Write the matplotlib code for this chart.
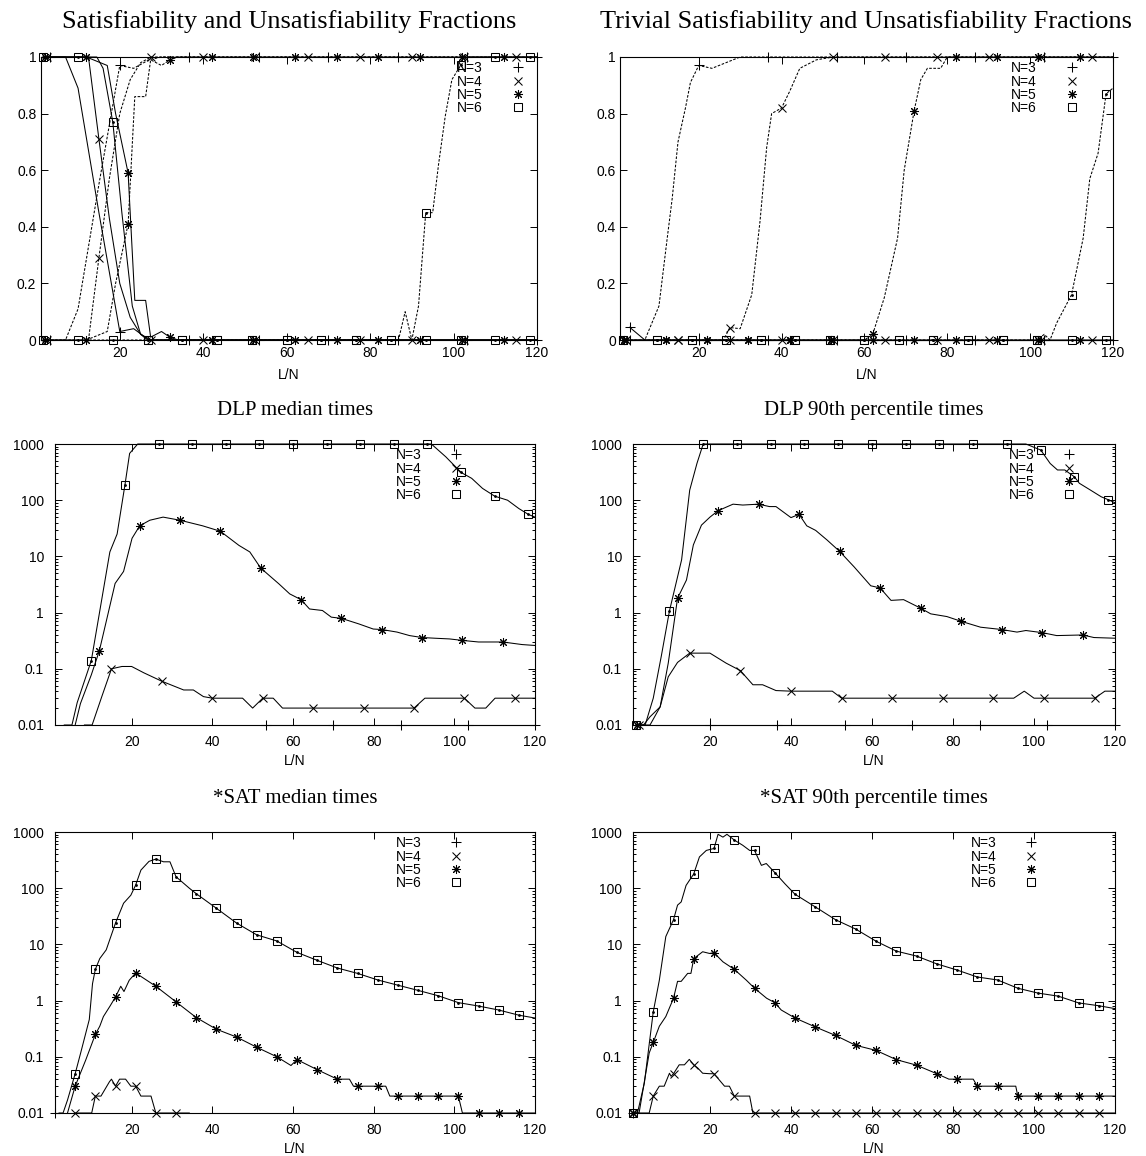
import matplotlib
matplotlib.use("Agg")
import matplotlib.pyplot as plt
from matplotlib.lines import Line2D
from matplotlib.ticker import LogLocator, NullFormatter, NullLocator

# marker positions (L/N) used for each N
mk3 = [3.33, 20, 36.67, 53.33, 70, 86.67, 103.33, 120]
mk4 = [2.5, 15, 27.5, 40, 52.5, 65, 77.5, 90, 102.5, 115]
mk5 = [2, 12, 22, 32, 42, 52, 62, 72, 82, 92, 102, 112]
mk6 = [1.67, 10, 18.33, 26.67, 35, 43.33, 51.67, 60, 68.33, 76.67, 85, 93.33, 101.67, 110, 118.33]
mkb = [1, 6, 11, 16, 21, 26, 31, 36, 41, 46, 51, 56, 61, 66, 71, 76, 81, 86, 91, 96, 101, 106, 111, 116]

labels = ["N=3", "N=4", "N=5", "N=6"]

# --- satisfiability / unsatisfiability fractions
fr_x3 = [3.33, 7, 10, 15, 20, 23.33, 27, 30, 36.67, 53.33, 70, 86.67, 103.33, 120]
fr_uns3 = [1, 1, 0.89, 0.45, 0.03, 0.04, 0, 0, 0, 0, 0, 0, 0, 0]
fr_sat3 = [0, 0, 0.11, 0.55, 0.97, 0.96, 0.99, 1, 1, 1, 1, 1, 1, 1]
fr_x4 = [2.5, 12.5, 15, 17.5, 20, 22.5, 25, 27.5, 40, 52.5, 65, 77.5, 90, 102.5, 115, 120]
fr_uns4 = [1, 1, 0.71, 0.43, 0.2, 0.08, 0.02, 0, 0, 0, 0, 0, 0, 0, 0, 0]
fr_sat4 = [0, 0, 0.29, 0.57, 0.8, 0.92, 0.98, 1, 1, 1, 1, 1, 1, 1, 1, 1]
fr_x5 = [2, 12, 17, 19, 22, 23.6, 26.2, 27.4, 30, 32, 34, 42, 52, 62, 72, 82, 92, 102, 112, 120]
fr_uns5 = [1, 1, 0.97, 0.8, 0.59, 0.14, 0.14, 0.01, 0.03, 0.01, 0, 0, 0, 0, 0, 0, 0, 0, 0, 0]
fr_sat5 = [0, 0, 0.03, 0.2, 0.41, 0.86, 0.86, 0.99, 0.97, 0.99, 1, 1, 1, 1, 1, 1, 1, 1, 1, 1]
fr_x6 = [1.67, 10, 14.5, 16, 18.33, 20.5, 23, 25, 26.67, 35, 43.33, 51.67, 60, 68.33, 76.67, 85,
         86.8, 88.4, 90, 91.6, 93.33, 95, 96.4, 98, 99.6, 101.67, 103.6, 110, 118.33, 120]
fr_uns6 = [1, 1, 1, 0.96, 0.77, 0.45, 0.12, 0.02, 0, 0, 0, 0, 0, 0, 0, 0,
           0, 0, 0, 0, 0, 0, 0, 0, 0, 0, 0, 0, 0, 0]
fr_sat6 = [0, 0, 0, 0, 0, 0, 0, 0, 0, 0, 0, 0, 0, 0, 0, 0,
           0, 0.1, 0, 0.12, 0.45, 0.45, 0.62, 0.79, 0.92, 0.97, 1, 1, 1, 1]

# --- trivial satisfiability / unsatisfiability fractions
tr_x3 = [3.33, 7, 10.4, 12.4, 13.6, 15, 16.8, 18, 20, 23.2, 30, 36.67, 53.33, 70, 86.67, 103.33, 120]
tr_sat3 = [0, 0, 0.12, 0.36, 0.5, 0.7, 0.82, 0.91, 0.97, 0.96, 1, 1, 1, 1, 1, 1, 1]
tr_uns3 = [0.045, 0, 0, 0, 0, 0, 0, 0, 0, 0, 0, 0, 0, 0, 0, 0, 0]
tr_x4 = [2.5, 15, 26, 27.5, 30, 32.8, 34.8, 36.4, 37.6, 40, 42, 44.4, 48.4, 52.5, 65, 77.5, 90, 102.5, 115, 120]
tr_sat4 = [0, 0, 0, 0.044, 0.04, 0.16, 0.42, 0.68, 0.8, 0.82, 0.88, 0.96, 0.99, 1, 1, 1, 1, 1, 1, 1]
tr_uns4 = [0] * 20
tr_x5 = [2, 12, 22, 32, 42, 52, 60, 62, 64.8, 68, 69.6, 72, 73.6, 75.2, 78.4, 80, 82, 92, 102, 112, 120]
tr_sat5 = [0, 0, 0, 0, 0, 0, 0, 0.02, 0.15, 0.36, 0.6, 0.81, 0.92, 0.96, 0.96, 1, 1, 1, 1, 1, 1]
tr_uns5 = [0] * 21
tr_x6 = [1.67, 10, 18.33, 26.67, 35, 43.33, 51.67, 60, 68.33, 76.67, 85, 93.33, 101.67,
         103.4, 104.8, 106.4, 110, 112.8, 114.4, 116.4, 118.33, 120]
tr_sat6 = [0, 0, 0, 0, 0, 0, 0, 0, 0, 0, 0, 0, 0,
           0.02, 0, 0.06, 0.16, 0.36, 0.57, 0.66, 0.87, 0.89]
tr_uns6 = [0] * 22

# --- DLP median times
dm_x3 = [52, 53.33, 70, 86.67, 103.33, 120]
dm_y3 = [0.01, 0.01, 0.01, 0.01, 0.01, 0.01]
dm_x4 = [8.3, 10.2, 12.6, 15, 17.6, 20, 23, 27.5, 32.9, 35.3, 37.8, 40, 47.5, 50, 52.5, 55.1, 57.4,
         65, 77.5, 90, 92.7, 102.5, 105.1, 107.8, 110.1, 115, 120]
dm_y4 = [0.01, 0.01, 0.032, 0.1, 0.11, 0.11, 0.085, 0.06, 0.042, 0.042, 0.032, 0.03, 0.03, 0.02, 0.03,
         0.03, 0.02, 0.02, 0.02, 0.02, 0.03, 0.03, 0.02, 0.02, 0.03, 0.03, 0.03]
dm_x5 = [6, 7.3, 10, 12, 13.9, 15.9, 18, 20.1, 22, 24.5, 27.8, 32, 37.6, 42, 46.6, 49.3, 52, 56.5,
         59.2, 62, 64.1, 67.3, 69.5, 72, 76.3, 79.9, 82, 85.8, 88.9, 92, 95.2, 98.8, 102, 106, 112,
         116.8, 120]
dm_y5 = [0.01, 0.024, 0.078, 0.21, 0.8, 3.3, 5.4, 21, 35, 44, 50, 44, 35, 28, 15.7, 12, 6.2, 3.25,
         2.15, 1.7, 1.16, 1.09, 0.83, 0.79, 0.63, 0.51, 0.5, 0.45, 0.39, 0.36, 0.35, 0.34, 0.32, 0.3,
         0.3, 0.27, 0.26]
dm_x6 = [3.3, 5.2, 6.5, 10, 14.6, 16.4, 18.33, 19.5, 21.5, 26.67, 35, 43.33, 51.67, 60, 68.33, 76.67,
         85, 93.33, 94.3, 97.9, 101.67, 104.3, 107, 110, 113.2, 116, 118.33, 120]
dm_y6 = [0.01, 0.01, 0.025, 0.14, 12, 25, 185, 680, 1000, 1000, 1000, 1000, 1000, 1000, 1000, 1000,
         1000, 1000, 1000, 590, 312, 245, 162, 118, 100, 71, 56, 50]

# --- DLP 90th percentile times
dp_x3 = [6.8, 20, 36.67, 53.33, 70, 86.67, 103.33, 120]
dp_y3 = [0.01, 0.01, 0.01, 0.01, 0.01, 0.01, 0.01, 0.01]
dp_x4 = [2.5, 5.2, 7.7, 9.7, 12, 15, 20, 24, 27.5, 30.6, 33, 36.3, 40, 50.2, 52.5, 65, 77.5, 90, 95,
         97.6, 100, 102.5, 115, 117.5, 120]
dp_y4 = [0.01, 0.01, 0.021, 0.072, 0.13, 0.19, 0.19, 0.126, 0.093, 0.052, 0.052, 0.041, 0.04, 0.04,
         0.03, 0.03, 0.03, 0.03, 0.03, 0.04, 0.03, 0.03, 0.03, 0.04, 0.04]
dp_x5 = [2, 3.6, 5.2, 7.7, 9.7, 12, 14.2, 15.9, 17.9, 20, 22, 25.7, 28.1, 32, 34.7, 36.3, 40, 42, 43.9,
         46.1, 48.9, 52, 55.6, 59.7, 62, 64.7, 67.8, 72, 74.5, 78.5, 82, 86.8, 92, 95.8, 98, 102,
         105.6, 112, 114.8, 120]
dp_y5 = [0.01, 0.01, 0.014, 0.021, 0.126, 1.8, 3.8, 16, 36, 50, 65, 85, 82, 85, 77, 77, 49, 56, 35,
         29, 19.6, 12.3, 6.5, 3.0, 2.75, 1.65, 1.7, 1.2, 0.95, 0.85, 0.7, 0.55, 0.5, 0.45, 0.48, 0.44,
         0.39, 0.4, 0.36, 0.35]
dp_x6 = [1.67, 4, 6, 8, 10, 13, 15, 16.8, 18.33, 26.67, 35, 43.33, 51.67, 60, 68.33, 76.67, 85,
         93.33, 98, 101.67, 104, 105.8, 107.6, 110, 111.2, 113.9, 116.6, 118.33, 120]
dp_y6 = [0.01, 0.01, 0.03, 0.17, 1.07, 8.7, 151, 454, 1000, 1000, 1000, 1000, 1000, 1000, 1000,
         1000, 1000, 1000, 1000, 780, 450, 345, 345, 260, 200, 152, 115, 102, 90]

# --- *SAT median times
sm_x3 = [1, 2]
sm_y3 = [0.01, 0.01]
sm_x4 = [6, 10.1, 11, 12.4, 14.5, 15, 16, 17, 18.5, 19.8, 21, 22.3, 24.8, 26, 31, 34.3]
sm_y4 = [0.01, 0.01, 0.02, 0.02, 0.036, 0.04, 0.03, 0.04, 0.04, 0.03, 0.03, 0.02, 0.02, 0.01, 0.01, 0.01]
sm_x5 = [4.1, 6, 8.6, 11, 12.1, 13, 14.6, 16, 17.3, 18.1, 19.4, 21, 26, 31, 36, 41, 46, 51, 56, 59.5,
         61, 66, 71, 74, 75, 76, 81, 83, 84, 86, 91, 96, 101, 102, 106, 111, 116, 120]
sm_y5 = [0.01, 0.03, 0.087, 0.25, 0.35, 0.52, 0.79, 1.16, 1.8, 1.45, 2.3, 3.1, 1.8, 0.95, 0.5, 0.31,
         0.225, 0.148, 0.1, 0.07, 0.089, 0.059, 0.04, 0.04, 0.03, 0.03, 0.03, 0.03, 0.02, 0.02, 0.02,
         0.02, 0.02, 0.01, 0.01, 0.01, 0.01, 0.01]
sm_x6 = [2, 3, 4.1, 6, 7.4, 9.5, 10.3, 11, 12.1, 13.7, 16, 18, 19.8, 21, 22.3, 24.3, 26, 27.9, 29.5,
         31, 34.3, 36, 41, 46, 51, 56, 61, 66, 71, 76, 81, 86, 91, 96, 101, 106, 111, 116, 120]
sm_y6 = [0.01, 0.01, 0.017, 0.05, 0.12, 0.46, 2.0, 3.6, 5.6, 8, 24, 54, 75, 114, 210, 300, 330, 295,
         295, 160, 100, 80, 44, 24, 14.8, 11.5, 7.2, 5.2, 3.8, 3.05, 2.33, 1.88, 1.52, 1.22, 0.92, 0.8,
         0.68, 0.55, 0.49]

# --- *SAT 90th percentile times
sp_x3 = [1, 2]
sp_y3 = [0.01, 0.01]
sp_x4 = [1, 2.1, 5, 6, 7.5, 8.7, 10, 10.4, 11, 12.4, 13.7, 14.9, 16, 17, 18.2, 19.9, 21, 23.6, 24.8,
         26, 29.8, 30.6, 31, 36, 41, 46, 51, 56, 61, 66, 71, 76, 81, 86, 91, 96, 101, 106, 111, 116, 120]
sp_y4 = [0.01, 0.01, 0.01, 0.02, 0.03, 0.03, 0.051, 0.045, 0.05, 0.072, 0.072, 0.09, 0.072, 0.063,
         0.051, 0.05, 0.05, 0.03, 0.03, 0.02, 0.02, 0.01, 0.01, 0.01, 0.01, 0.01, 0.01, 0.01, 0.01,
         0.01, 0.01, 0.01, 0.01, 0.01, 0.01, 0.01, 0.01, 0.01, 0.01, 0.01, 0.01]
sp_x5 = [1, 2.5, 5, 6, 7.5, 9.1, 11, 12, 12.9, 14.5, 15.3, 16, 18.2, 19.9, 21, 23.2, 26, 29, 31, 34,
         36, 37.6, 41, 46, 51, 56, 61, 66, 71, 76, 79, 81, 85, 86, 91, 95.5, 96, 101, 106, 111, 116, 120]
sp_y5 = [0.01, 0.01, 0.117, 0.18, 0.35, 0.52, 1.1, 2.2, 2.2, 3.05, 3.05, 5.6, 7.4, 6.9, 7.1, 4.9, 3.6,
         2.3, 1.66, 1.1, 0.92, 0.68, 0.49, 0.34, 0.24, 0.16, 0.13, 0.089, 0.071, 0.05, 0.04, 0.04,
         0.04, 0.03, 0.03, 0.03, 0.02, 0.02, 0.02, 0.02, 0.02, 0.02]
sp_x6 = [1, 2.1, 3.8, 6, 7.5, 9.1, 11, 12, 12.9, 14.1, 16, 17.4, 19.1, 21, 22, 23.2, 24.2, 26, 28.1,
         29.8, 31, 32.7, 33.9, 36, 38.5, 41, 46, 51, 56, 61, 66, 71, 76, 81, 86, 91, 96, 101, 106,
         111, 116, 120]
sp_y6 = [0.01, 0.01, 0.034, 0.63, 2.3, 13.8, 27.5, 50, 57, 112, 180, 360, 470, 510, 910, 810, 910,
         720, 580, 470, 470, 255, 275, 190, 120, 78, 46.5, 27.5, 18.7, 11.4, 7.6, 6.2, 4.5, 3.5, 2.63,
         2.33, 1.66, 1.36, 1.2, 0.91, 0.81, 0.72]

serif = "Liberation Serif"
sans = "Liberation Sans"
plt.rcParams["font.family"] = sans

markers = {3: "+", 4: "x", 5: (8, 2, 0), 6: "s"}
msize = {3: 6.5, 4: 5.5, 5: 6.5, 6: 6}
fs = 10


def series(ax, x, y, n, marks, ls="-"):
    idx = [i for i, v in enumerate(x) if v in marks]
    ax.plot(x, y, color="k", lw=0.75, ls=ls, marker=markers[n], markevery=idx,
            ms=msize[n], mfc="none", mec="k", mew=0.75, clip_on=False, zorder=3)
    if n == 6:
        ax.plot(x, y, ls="none", marker="o", markevery=idx, ms=1.0, color="k",
                clip_on=False, zorder=3)


def frame(ax, title, logy, legend_anchor, big=False):
    ax.set_xlim(1, 120)
    ax.set_xticks([20, 40, 60, 80, 100, 120])
    ax.xaxis.set_minor_locator(NullLocator())
    if logy:
        ax.set_yscale("log")
        ax.set_ylim(0.01, 1000)
        ax.set_yticks([0.01, 0.1, 1, 10, 100, 1000])
        ax.set_yticklabels(["0.01", "0.1", "1", "10", "100", "1000"])
        ax.yaxis.set_minor_locator(LogLocator(base=10, subs=[2, 3, 4, 5, 6, 7, 8, 9]))
        ax.yaxis.set_minor_formatter(NullFormatter())
    else:
        ax.set_ylim(0, 1)
        ax.set_yticks([0, 0.2, 0.4, 0.6, 0.8, 1])
        ax.set_yticklabels(["0", "0.2", "0.4", "0.6", "0.8", "1"])
    ax.tick_params(which="both", direction="in", top=True, right=True, width=0.7)
    ax.tick_params(which="major", length=5, labelsize=fs)
    ax.tick_params(which="minor", length=2.5)
    ax.tick_params(axis="y", pad=3 if big else 8)
    ax.tick_params(axis="x", pad=4 if big else 7)
    for s in ax.spines.values():
        s.set_linewidth(0.8)
    if big:
        ax.set_title(title, fontfamily=serif, fontsize=19, pad=21)
    else:
        ax.set_title(title, fontfamily=serif, fontsize=15, pad=21)
    ax.set_xlabel("L/N", fontsize=fs, labelpad=6 if big else 4)
    handles = [Line2D([], [], ls="none", marker=markers[n], ms=msize[n], mfc="none",
                      mec="k", mew=0.75) for n in (3, 4, 5, 6)]
    ax.legend(handles, labels, loc="upper right", bbox_to_anchor=legend_anchor,
              frameon=False, markerfirst=False, fontsize=fs, handlelength=1.0,
              handletextpad=2.0, labelspacing=-0.05,
              borderaxespad=0, borderpad=0)


fig = plt.figure(figsize=(11.46, 11.56), dpi=100)
W, H = 1146.0, 1156.0


def axes_px(x0, x1, y0, y1):
    return fig.add_axes([x0 / W, 1 - y1 / H, (x1 - x0) / W, (y1 - y0) / H])


ax1 = axes_px(40.5, 537, 57, 340)
ax2 = axes_px(620, 1113, 57, 340)
ax3 = axes_px(55, 535, 444, 725)
ax4 = axes_px(633, 1115, 444, 725)
ax5 = axes_px(55, 535, 832, 1113)
ax6 = axes_px(633, 1115, 832, 1113)

dash = (0, (2.5, 1.5))

# panel 1
series(ax1, fr_x3, fr_uns3, 3, mk3)
series(ax1, fr_x3, fr_sat3, 3, mk3, dash)
series(ax1, fr_x4, fr_uns4, 4, mk4)
series(ax1, fr_x4, fr_sat4, 4, mk4, dash)
series(ax1, fr_x5, fr_uns5, 5, mk5)
series(ax1, fr_x5, fr_sat5, 5, mk5, dash)
series(ax1, fr_x6, fr_uns6, 6, mk6)
series(ax1, fr_x6, fr_sat6, 6, mk6, dash)
frame(ax1, "Satisfiability and Unsatisfiability Fractions", False, (0.975, 0.985), big=True)

# panel 2
series(ax2, tr_x3, tr_uns3, 3, mk3)
series(ax2, tr_x3, tr_sat3, 3, mk3, dash)
series(ax2, tr_x4, tr_uns4, 4, mk4)
series(ax2, tr_x4, tr_sat4, 4, mk4, dash)
series(ax2, tr_x5, tr_uns5, 5, mk5)
series(ax2, tr_x5, tr_sat5, 5, mk5, dash)
series(ax2, tr_x6, tr_uns6, 6, mk6)
series(ax2, tr_x6, tr_sat6, 6, mk6, dash)
frame(ax2, "Trivial Satisfiability and Unsatisfiability Fractions", False, (0.93, 0.985), big=True)

# panel 3
series(ax3, dm_x3, dm_y3, 3, mk3)
series(ax3, dm_x4, dm_y4, 4, mk4)
series(ax3, dm_x5, dm_y5, 5, mk5)
series(ax3, dm_x6, dm_y6, 6, mk6)
frame(ax3, "DLP median times", True, (0.85, 0.985))

# panel 4
series(ax4, dp_x3, dp_y3, 3, mk3)
series(ax4, dp_x4, dp_y4, 4, mk4)
series(ax4, dp_x5, dp_y5, 5, mk5)
series(ax4, dp_x6, dp_y6, 6, mk6)
frame(ax4, "DLP 90th percentile times", True, (0.92, 0.985))

# panel 5
series(ax5, sm_x3, sm_y3, 3, mkb)
series(ax5, sm_x4, sm_y4, 4, mkb)
series(ax5, sm_x5, sm_y5, 5, mkb)
series(ax5, sm_x6, sm_y6, 6, mkb)
frame(ax5, "*SAT median times", True, (0.85, 0.985))

# panel 6
series(ax6, sp_x3, sp_y3, 3, mkb)
series(ax6, sp_x4, sp_y4, 4, mkb)
series(ax6, sp_x5, sp_y5, 5, mkb)
series(ax6, sp_x6, sp_y6, 6, mkb)
frame(ax6, "*SAT 90th percentile times", True, (0.84, 0.985))

fig.savefig("out.png", dpi=100, facecolor="white")
